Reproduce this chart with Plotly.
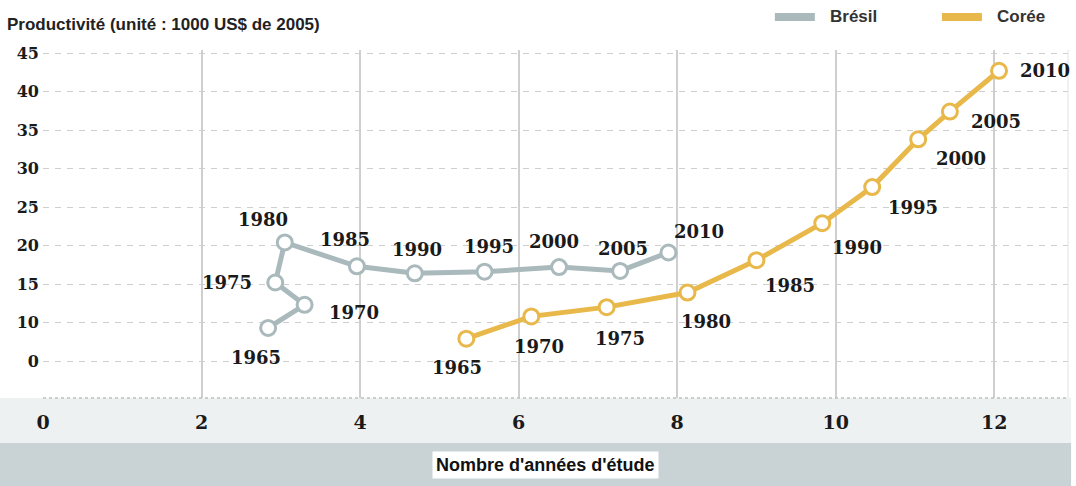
import plotly.graph_objects as go

# ---- data ----
years = ["1965", "1970", "1975", "1980", "1985", "1990", "1995", "2000", "2005", "2010"]
bresil_x = [2.84, 3.30, 2.93, 3.05, 3.96, 4.69, 5.57, 6.51, 7.28, 7.89]
bresil_y = [9.3, 12.3, 15.2, 20.4, 17.3, 16.4, 16.6, 17.2, 16.7, 19.1]
coree_x = [5.34, 6.16, 7.11, 8.13, 9.00, 9.83, 10.46, 11.04, 11.44, 12.06]
coree_y = [7.9, 10.8, 12.0, 13.9, 18.1, 22.9, 27.6, 33.8, 37.4, 42.7]

x_tickvals = [0, 2, 4, 6, 8, 10, 12]
x_ticktext = ["0", "2", "4", "6", "8", "10", "12"]
y_tickvals = [5, 10, 15, 20, 25, 30, 35, 40, 45]
y_ticktext = ["0", "10", "15", "20", "25", "30", "35", "40", "45"]

title_text = "Productivité (unité : 1000 US$ de 2005)"
xaxis_title = "Nombre d'années d'étude"
series_names = ["Brésil", "Corée"]

# ---- styles ----
C_BR = "#a9b9bc"
C_KR = "#e8b84a"
GRID = "#cfcfcf"
LABEL_FONT = dict(family="DejaVu Serif", size=18, color="#1a1a1a", weight="bold")
SANS = "Liberation Sans, Arial"

# label offsets in pixels (dx right, dy down)
br_off = [(-12, 30), (49, 8), (-48, 0), (-22, -23), (-12, -27), (2, -24), (4, -25), (-5, -26), (3, -22), (31, -21)]
kr_off = [(-9, 29), (8, 30), (13, 31), (19, 29), (34, 25), (35, 24), (41, 20), (43, 19), (46, 10), (46, 0)]

fig = go.Figure()
for xs, ys, col, name in [(bresil_x, bresil_y, C_BR, series_names[0]), (coree_x, coree_y, C_KR, series_names[1])]:
    fig.add_trace(go.Scatter(
        x=xs, y=ys, mode="lines+markers", name=name,
        line=dict(color=col, width=5),
        marker=dict(size=15, color="white", line=dict(color=col, width=3)),
        showlegend=False, hoverinfo="skip",
    ))

annotations = []
for xs, ys, offs in [(bresil_x, bresil_y, br_off), (coree_x, coree_y, kr_off)]:
    for xv, yv, yr, (dx, dy) in zip(xs, ys, years, offs):
        annotations.append(dict(
            x=xv, y=yv, xref="x", yref="y", text=yr, showarrow=False,
            xshift=dx, yshift=-dy, font=LABEL_FONT, xanchor="center", yanchor="middle",
        ))

# title
annotations.append(dict(x=-0.037, y=1.072, xref="paper", yref="paper", text=title_text,
                        showarrow=False, xanchor="left", yanchor="middle",
                        font=dict(family=SANS, size=17, color="#222", weight="bold")))
# legend texts
annotations.append(dict(x=0.766, y=1.095, xref="paper", yref="paper", text=series_names[0],
                        showarrow=False, xanchor="left", yanchor="middle",
                        font=dict(family=SANS, size=17, color="#333", weight="bold")))
annotations.append(dict(x=0.929, y=1.095, xref="paper", yref="paper", text=series_names[1],
                        showarrow=False, xanchor="left", yanchor="middle",
                        font=dict(family=SANS, size=17, color="#333", weight="bold")))
# x-axis title in a white box
annotations.append(dict(x=0.49, y=-0.1925, xref="paper", yref="paper", text=xaxis_title,
                        showarrow=False, xanchor="center", yanchor="middle", bgcolor="white",
                        borderpad=3,
                        font=dict(family=SANS, size=18, color="#111", weight="bold")))

shapes = [
    dict(type="rect", xref="paper", yref="paper", x0=-0.045, x1=1.003, y0=-0.129, y1=0,
         fillcolor="#eef1f2", line=dict(width=0), layer="below"),
    dict(type="rect", xref="paper", yref="paper", x0=-0.045, x1=1.003, y0=-0.26, y1=-0.129,
         fillcolor="#c9d3d6", line=dict(width=0), layer="below"),
    dict(type="line", xref="paper", yref="paper", x0=0, x1=1, y0=0, y1=0,
         line=dict(color="#bfbfbf", width=1.5, dash="dot")),
    dict(type="line", xref="paper", yref="paper", x0=1, x1=1, y0=0, y1=1,
         line=dict(color="#e2e2e2", width=1)),
    dict(type="rect", xref="paper", yref="paper", x0=0.714, x1=0.753, y0=1.083, y1=1.106,
         fillcolor=C_BR, line=dict(width=0)),
    dict(type="rect", xref="paper", yref="paper", x0=0.877, x1=0.916, y0=1.083, y1=1.106,
         fillcolor=C_KR, line=dict(width=0)),
]

fig.update_layout(
    width=1076, height=486,
    margin=dict(l=43, r=8, t=50, b=88),
    paper_bgcolor="white", plot_bgcolor="white",
    annotations=annotations, shapes=shapes,
    xaxis=dict(range=[0, 12.93], tickvals=x_tickvals, ticktext=x_ticktext,
               showgrid=True, gridcolor=GRID, gridwidth=1.5, zeroline=False, showline=False,
               ticks="", ticklabelstandoff=11,
               tickfont=dict(family="DejaVu Serif", size=19, color="#1a1a1a", weight="bold"),
               fixedrange=True),
    yaxis=dict(range=[0.2, 45.4], tickvals=y_tickvals, ticktext=y_ticktext,
               showgrid=True, gridcolor=GRID, gridwidth=1, griddash="6px,6px",
               zeroline=False, showline=False, ticks="", ticklabelstandoff=3,
               tickfont=dict(family="DejaVu Serif", size=16, color="#1a1a1a", weight="bold"),
               fixedrange=True),
)

fig.write_html("out.html")
